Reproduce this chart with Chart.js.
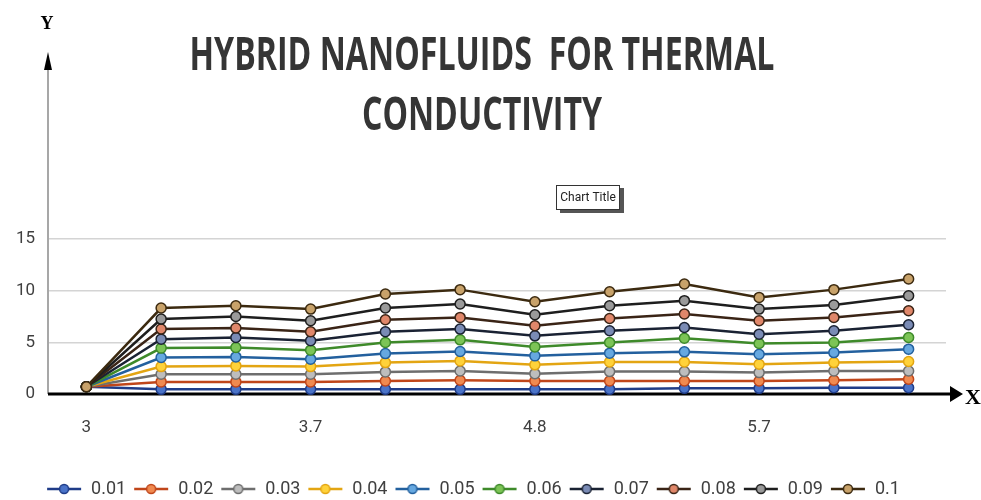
<!DOCTYPE html>
<html>
<head>
<meta charset="utf-8">
<script src="https://cdn.jsdelivr.net/npm/chart.js@4.4.0/dist/chart.umd.min.js"></script>
<style>
  html, body { margin: 0; padding: 0; background: #fff; }
</style>
</head>
<body>
<canvas id="chart" width="981" height="500"></canvas>
<script>
// only every third category carries a printed label
const xLabels = ['3', '', '', '3.7', '', '', '4.8', '', '', '5.7', '', ''];
const yTicks = [0, 5, 10, 15];
const seriesNames = ['0.01', '0.02', '0.03', '0.04', '0.05', '0.06', '0.07', '0.08', '0.09', '0.1'];

const s001 = [0.7, 0.45, 0.45, 0.45, 0.45, 0.45, 0.45, 0.45, 0.55, 0.55, 0.6, 0.6];
const s002 = [0.7, 1.17, 1.17, 1.17, 1.26, 1.33, 1.26, 1.26, 1.26, 1.26, 1.33, 1.43];
const s003 = [0.7, 1.91, 1.91, 1.91, 2.14, 2.23, 1.97, 2.17, 2.17, 2.07, 2.23, 2.23];
const s004 = [0.7, 2.65, 2.72, 2.65, 3.04, 3.2, 2.82, 3.1, 3.1, 2.88, 3.04, 3.14];
const s005 = [0.7, 3.53, 3.59, 3.37, 3.91, 4.11, 3.69, 3.95, 4.08, 3.85, 4.01, 4.34];
const s006 = [0.7, 4.44, 4.5, 4.24, 4.98, 5.24, 4.56, 4.98, 5.4, 4.89, 4.98, 5.47];
const s007 = [0.7, 5.31, 5.47, 5.15, 6.02, 6.28, 5.63, 6.12, 6.44, 5.79, 6.12, 6.7];
const s008 = [0.7, 6.28, 6.38, 6.02, 7.18, 7.41, 6.6, 7.31, 7.74, 7.09, 7.41, 8.06];
const s009 = [0.7, 7.25, 7.5, 7.09, 8.32, 8.71, 7.67, 8.54, 9.03, 8.22, 8.61, 9.51];
const s010 = [0.7, 8.32, 8.54, 8.22, 9.68, 10.1, 8.93, 9.9, 10.65, 9.35, 10.1, 11.13];

const seriesData = [s001, s002, s003, s004, s005, s006, s007, s008, s009, s010];
const lineColors = ['#1f3c88', '#c0461a', '#6e6e6e', '#e3a512', '#23609e', '#3e8a2a', '#1a2233', '#3a2416', '#1e1e1e', '#3c2a10'];
const markerColors = ['#4a73c8', '#f08a50', '#bdbdbd', '#ffd23a', '#66a8e0', '#7cc456', '#7a8bb5', '#e0876a', '#9a9a9a', '#c8a26a'];

const labelFont = "Roboto, 'Open Sans', sans-serif";

// small line-with-marker swatch for the legend
function legendSwatch(line, fill) {
  const c = document.createElement('canvas');
  c.width = 36; c.height = 14;
  const g = c.getContext('2d');
  g.strokeStyle = line;
  g.lineWidth = 2.5;
  g.beginPath(); g.moveTo(1, 7); g.lineTo(35, 7); g.stroke();
  g.beginPath(); g.arc(18, 7, 4.5, 0, Math.PI * 2);
  g.fillStyle = fill; g.fill();
  g.lineWidth = 1.5; g.stroke();
  return c;
}

const datasets = seriesNames.map(function (name, i) {
  return {
    label: name,
    data: seriesData[i],
    borderColor: lineColors[i],
    backgroundColor: markerColors[i],
    borderWidth: 2.5,
    pointRadius: 5,
    pointBorderWidth: 1.5,
    pointBorderColor: lineColors[i],
    pointBackgroundColor: markerColors[i],
    tension: 0,
    clip: 10,
    order: seriesNames.length - i,
    swatch: legendSwatch(lineColors[i], markerColors[i])
  };
});

// headings, axis arrows and the little title box
const decor = {
  id: 'decor',
  beforeDatasetsDraw(chart) {
    const ctx = chart.ctx, a = chart.chartArea;
    ctx.save();
    // y axis with arrow
    ctx.strokeStyle = '#8a8a8a';
    ctx.lineWidth = 1.5;
    ctx.beginPath(); ctx.moveTo(a.left - 1, a.bottom); ctx.lineTo(a.left - 1, 68); ctx.stroke();
    ctx.fillStyle = '#000';
    ctx.beginPath(); ctx.moveTo(a.left - 1, 52); ctx.lineTo(a.left - 5, 70); ctx.lineTo(a.left + 3, 70); ctx.closePath(); ctx.fill();
    // x axis with arrow
    ctx.strokeStyle = '#000';
    ctx.lineWidth = 3;
    ctx.beginPath(); ctx.moveTo(a.left - 1, a.bottom); ctx.lineTo(a.right + 5, a.bottom); ctx.stroke();
    ctx.beginPath(); ctx.moveTo(a.right + 17, a.bottom); ctx.lineTo(a.right + 4, a.bottom - 8); ctx.lineTo(a.right + 4, a.bottom + 8); ctx.closePath(); ctx.fill();
    ctx.font = 'bold 18px "Liberation Serif", serif';
    ctx.textAlign = 'center';
    ctx.textBaseline = 'middle';
    ctx.fillText('Y', a.left - 2, 24);
    ctx.font = 'bold 22px "Liberation Serif", serif';
    ctx.fillText('X', a.right + 27, a.bottom + 4);
    ctx.restore();
  },
  afterDraw(chart) {
    const ctx = chart.ctx;
    ctx.save();
    // condensed two-line heading
    ctx.fillStyle = '#353535';
    ctx.font = 'bold 46px "Open Sans", sans-serif';
    ctx.textAlign = 'center';
    ctx.textBaseline = 'alphabetic';
    const line1 = 'HYBRID NANOFLUIDS  FOR THERMAL';
    const sx = 585 / ctx.measureText(line1).width;
    ctx.translate(482, 0);
    ctx.scale(sx, 1);
    ctx.fillText(line1, 0, 70);
    ctx.fillText('CONDUCTIVITY', 0, 130);
    ctx.restore();

    // "Chart Title" box with drop shadow
    ctx.save();
    ctx.fillStyle = '#555';
    ctx.fillRect(560, 188, 64, 25);
    ctx.fillStyle = '#fff';
    ctx.fillRect(556, 185, 64, 25);
    ctx.strokeStyle = '#333';
    ctx.lineWidth = 1;
    ctx.strokeRect(556.5, 185.5, 63, 24);
    ctx.fillStyle = '#222';
    ctx.font = '12px ' + labelFont;
    ctx.textAlign = 'center';
    ctx.textBaseline = 'middle';
    ctx.fillText('Chart Title', 588, 198);
    ctx.restore();
  }
};

new Chart(document.getElementById('chart'), {
  type: 'line',
  data: { labels: xLabels, datasets: datasets },
  plugins: [decor],
  options: {
    responsive: false,
    animation: false,
    layout: { padding: { top: 239, right: 35, left: 0, bottom: -8 } },
    plugins: {
      title: { display: false },
      tooltip: { enabled: false },
      legend: {
        position: 'bottom',
        labels: {
          usePointStyle: true,
          pointStyleWidth: 36,
          padding: 7,
          color: '#404040',
          font: { family: labelFont, size: 18 },
          generateLabels(chart) {
            return chart.data.datasets.map(function (ds, i) {
              return {
                text: ds.label,
                pointStyle: ds.swatch,
                fillStyle: ds.backgroundColor,
                strokeStyle: ds.borderColor,
                lineWidth: 0,
                fontColor: '#404040',
                hidden: !chart.isDatasetVisible(i),
                datasetIndex: i
              };
            });
          }
        }
      }
    },
    scales: {
      x: {
        offset: true,
        grid: { display: false, drawTicks: false },
        border: { display: false },
        ticks: {
          autoSkip: false,
          maxRotation: 0,
          padding: 24,
          color: '#404040',
          font: { family: labelFont, size: 17 }
        },
        afterFit(scale) { scale.height = 79; }
      },
      y: {
        min: 0,
        max: 15,
        afterBuildTicks(scale) { scale.ticks = yTicks.map(v => ({ value: v })); },
        grid: { color: '#d4d4d4', lineWidth: 1.5, drawTicks: false },
        border: { display: false },
        ticks: {
          padding: 14,
          color: '#404040',
          font: { family: labelFont, size: 17 }
        },
        afterFit(scale) { scale.width = 49; }
      }
    }
  }
});
</script>
</body>
</html>
